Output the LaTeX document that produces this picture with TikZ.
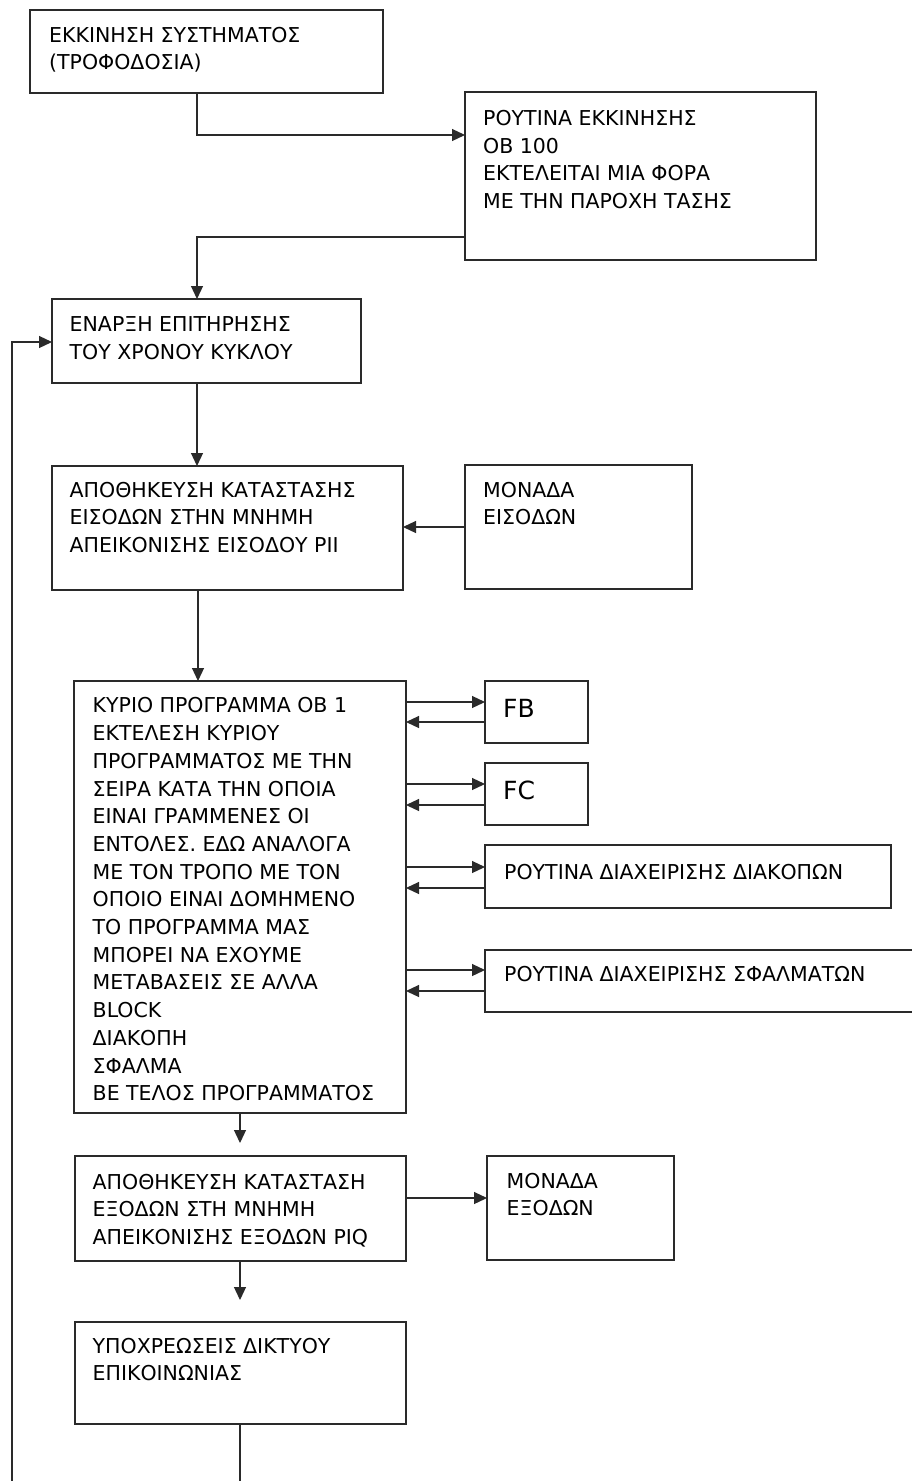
\documentclass[tikz,border=0pt]{standalone}
\usepackage{fontspec}
\setmainfont{DejaVu Sans}
\usetikzlibrary{arrows.meta,calc}
\definecolor{ln}{HTML}{2A2A2A}
\begin{document}
\begin{tikzpicture}[x=1pt,y=-1pt,
  box/.style={draw=ln,line width=1.3pt,rectangle,inner sep=0pt,outer sep=0pt,anchor=north west},
  txt/.style={font=\fontsize{20.5}{27.5}\selectfont,align=left,anchor=north west,inner sep=0pt,text=black},
  big/.style={font=\fontsize{25}{30}\selectfont,anchor=north west,inner sep=0pt,text=black},
  arr/.style={draw=ln,line width=1.2pt,-{Triangle[length=13pt,width=12pt]}},
  ln/.style={draw=ln,line width=1.2pt}]
\useasboundingbox (0,0) rectangle (912,1481);
\fill[white] (0,0) rectangle (912,1481);
% boxes
\node[box,minimum width=353pt,minimum height=83pt] (b1) at (30,10) {};
\node[box,minimum width=351pt,minimum height=168pt] (b2) at (465,92) {};
\node[box,minimum width=309pt,minimum height=84pt] (b3) at (52,299) {};
\node[box,minimum width=351pt,minimum height=124pt] (b4) at (52,466) {};
\node[box,minimum width=227pt,minimum height=124pt] (b5) at (465,465) {};
\node[box,minimum width=332pt,minimum height=432pt] (b6) at (74,681) {};
\node[box,minimum width=103pt,minimum height=62pt] (fb) at (485,681) {};
\node[box,minimum width=103pt,minimum height=62pt] (fc) at (485,763) {};
\node[box,minimum width=406pt,minimum height=63pt] (bd) at (485,845) {};
\node[box,minimum width=440pt,minimum height=62pt] (bs) at (485,950) {};
\node[box,minimum width=331pt,minimum height=105pt] (b7) at (75,1156) {};
\node[box,minimum width=331pt,minimum height=102pt] (b8) at (75,1322) {};
\node[box,minimum width=187pt,minimum height=104pt] (b9) at (487,1156) {};
% texts
\node[txt] (t1) at (49,27) {ΕΚΚΙΝΗΣΗ ΣΥΣΤΗΜΑΤΟΣ\\(ΤΡΟΦΟΔΟΣΙΑ)};
\node[txt] (t2) at (483,110.5) {ΡΟΥΤΙΝΑ ΕΚΚΙΝΗΣΗΣ\\OB 100\\ΕΚΤΕΛΕΙΤΑΙ ΜΙΑ ΦΟΡΑ\\ΜΕ ΤΗΝ ΠΑΡΟΧΗ ΤΑΣΗΣ};
\node[txt] (t3) at (69.5,316.5) {ΕΝΑΡΞΗ ΕΠΙΤΗΡΗΣΗΣ\\ΤΟΥ ΧΡΟΝΟΥ ΚΥΚΛΟΥ};
\node[txt] (t4) at (69.5,482) {ΑΠΟΘΗΚΕΥΣΗ ΚΑΤΑΣΤΑΣΗΣ\\ΕΙΣΟΔΩΝ ΣΤΗΝ ΜΝΗΜΗ\\ΑΠΕΙΚΟΝΙΣΗΣ ΕΙΣΟΔΟΥ PII};
\node[txt] (t5) at (483,482) {ΜΟΝΑΔΑ\\ΕΙΣΟΔΩΝ};
\node[txt,font=\fontsize{20.5}{27.7}\selectfont] (t6) at (92.5,697.5) {ΚΥΡΙΟ ΠΡΟΓΡΑΜΜΑ OB 1\\ΕΚΤΕΛΕΣΗ ΚΥΡΙΟΥ\\ΠΡΟΓΡΑΜΜΑΤΟΣ ΜΕ ΤΗΝ\\ΣΕΙΡΑ ΚΑΤΑ ΤΗΝ ΟΠΟΙΑ\\ΕΙΝΑΙ ΓΡΑΜΜΕΝΕΣ ΟΙ\\ΕΝΤΟΛΕΣ. ΕΔΩ ΑΝΑΛΟΓΑ\\ΜΕ ΤΟΝ ΤΡΟΠΟ ΜΕ ΤΟΝ\\ΟΠΟΙΟ ΕΙΝΑΙ ΔΟΜΗΜΕΝΟ\\ΤΟ ΠΡΟΓΡΑΜΜΑ ΜΑΣ\\ΜΠΟΡΕΙ ΝΑ ΕΧΟΥΜΕ\\ΜΕΤΑΒΑΣΕΙΣ ΣΕ ΑΛΛΑ\\BLOCK\\ΔΙΑΚΟΠΗ\\ΣΦΑΛΜΑ\\BE ΤΕΛΟΣ ΠΡΟΓΡΑΜΜΑΤΟΣ};
\node[big] (tfb) at (503,699) {FB};
\node[big] (tfc) at (503,781) {FC};
\node[txt] (td) at (504,864) {ΡΟΥΤΙΝΑ ΔΙΑΧΕΙΡΙΣΗΣ ΔΙΑΚΟΠΩΝ};
\node[txt] (ts) at (504,966) {ΡΟΥΤΙΝΑ ΔΙΑΧΕΙΡΙΣΗΣ ΣΦΑΛΜΑΤΩΝ};
\node[txt] (t7) at (92.5,1174) {ΑΠΟΘΗΚΕΥΣΗ ΚΑΤΑΣΤΑΣΗ\\ΕΞΟΔΩΝ ΣΤΗ ΜΝΗΜΗ\\ΑΠΕΙΚΟΝΙΣΗΣ ΕΞΟΔΩΝ PIQ};
\node[txt] (t8) at (92.5,1338) {ΥΠΟΧΡΕΩΣΕΙΣ ΔΙΚΤΥΟΥ\\ΕΠΙΚΟΙΝΩΝΙΑΣ};
\node[txt] (t9) at (506.5,1173) {ΜΟΝΑΔΑ\\ΕΞΟΔΩΝ};
% helper coordinates
\coordinate (c1) at (197,135);
\coordinate (c2) at (197,237);
\coordinate (c3) at (198,342);
\coordinate (c4) at (240,1198);
\coordinate (lf) at (12,342);
\coordinate (e1) at (12,1481);
\coordinate (e2) at (240,1481);
% connectors
\draw[arr] (b1.south -| c1) |- (b2.west |- c1);
\draw[arr] (b2.west |- c2) -| (b3.north -| c2);
\draw[arr] (b3.south -| c2) -- (b4.north -| c2);
\draw[arr] (b5.west |- 0,527) -- (b4.east |- 0,527);
\draw[arr] (b4.south -| c3) -- (b6.north -| c3);
\draw[arr] (b6.east |- 0,702) -- (fb.west |- 0,702);
\draw[arr] (fb.west |- 0,722) -- (b6.east |- 0,722);
\draw[arr] (b6.east |- 0,784) -- (fc.west |- 0,784);
\draw[arr] (fc.west |- 0,805) -- (b6.east |- 0,805);
\draw[arr] (b6.east |- 0,867) -- (bd.west |- 0,867);
\draw[arr] (bd.west |- 0,888) -- (b6.east |- 0,888);
\draw[arr] (b6.east |- 0,970) -- (bs.west |- 0,970);
\draw[arr] (bs.west |- 0,991) -- (b6.east |- 0,991);
\draw[arr,shorten >=13pt] (b6.south -| c4) -- (b7.north -| c4);
\draw[arr,shorten >=22pt] (b7.south -| c4) -- (b8.north -| c4);
\draw[arr] (b7.east |- c4) -- (b9.west |- c4);
\draw[ln] (b8.south -| e2) -- (e2);
\draw[arr] (e1) |- (b3.west |- lf);
\end{tikzpicture}
\end{document}
